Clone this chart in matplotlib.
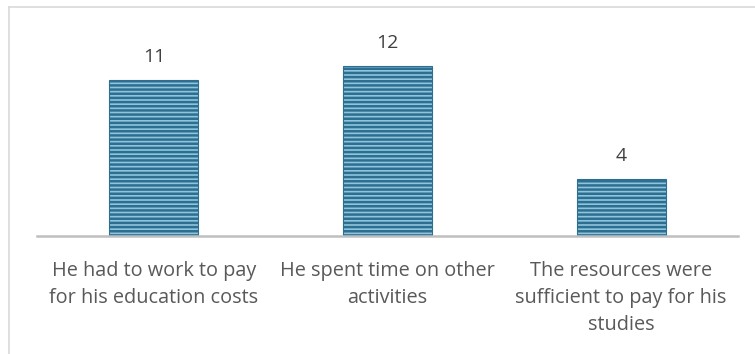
import matplotlib
matplotlib.use("Agg")
import matplotlib.pyplot as plt
from matplotlib.lines import Line2D

categories = [
    "He had to work to pay\nfor his education costs",
    "He spent time on other\nactivities",
    "The resources were\nsufficient to pay for his\nstudies",
]
counts = [11, 12, 4]

plt.rcParams['font.family'] = ['Open Sans', 'DejaVu Sans']
plt.rcParams['hatch.linewidth'] = 1.8

W, H = 755, 354
fig = plt.figure(figsize=(W / 100, H / 100), dpi=100)
ax = fig.add_axes([37 / W, 1 - 236 / H, (738 - 37) / W, (236 - 37.6) / H])

x = range(len(categories))
bars = ax.bar(x, counts, width=0.38, color='#8fc4dc', edgecolor='#2d6f91',
              linewidth=0.8, hatch='----')

for rect, val in zip(bars, counts):
    ax.annotate(str(val), (rect.get_x() + rect.get_width() / 2, rect.get_height()),
                xytext=(0, 10), textcoords='offset points', ha='center', va='bottom',
                fontsize=14, color='#404040')

ax.set_xlim(-0.5, len(categories) - 0.5)
ax.set_ylim(0, 14)
ax.set_xticks(list(x))
ax.set_xticklabels(categories, fontsize=14.3, color='#595959', linespacing=1.48)
ax.tick_params(axis='x', length=0, pad=18)
ax.set_yticks([])
for side in ('top', 'right', 'left'):
    ax.spines[side].set_visible(False)
ax.spines['bottom'].set_color('#bfbfbf')
ax.spines['bottom'].set_linewidth(1.8)

# light chart-area frame
fig.add_artist(Line2D([8.5 / W, 8.5 / W], [0, 1 - 7 / H], color='#d9d9d9', lw=1.2))
fig.add_artist(Line2D([8.5 / W, 1], [1 - 7 / H, 1 - 7 / H], color='#d9d9d9', lw=1.2))

fig.savefig('out.png', dpi=100)
